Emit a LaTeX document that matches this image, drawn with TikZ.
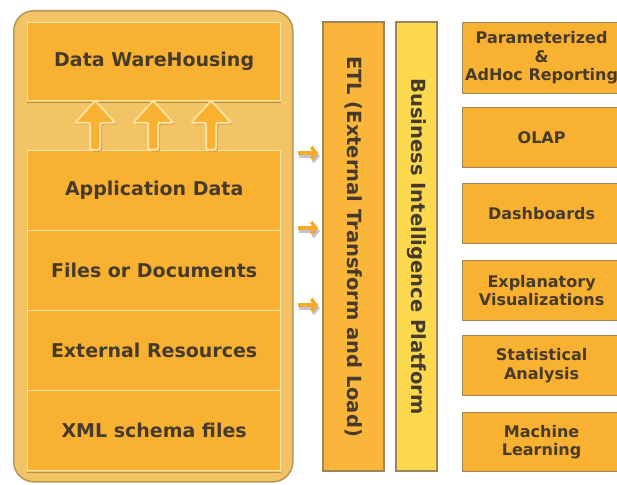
\documentclass[tikz,border=0pt]{standalone}
\usepackage{fontspec}
\setmainfont{DejaVu Sans}
\usetikzlibrary{arrows.meta,calc}
\definecolor{panelfill}{HTML}{F3C466}
\definecolor{paneldraw}{HTML}{B89A58}
\definecolor{boxfill}{HTML}{F9B132}
\definecolor{boxline}{HTML}{FCE4A4}
\definecolor{etlfill}{HTML}{F9B63A}
\definecolor{bifill}{HTML}{FDD950}
\definecolor{coldraw}{HTML}{9A8659}
\definecolor{txt}{HTML}{463B2A}
\definecolor{shadowline}{HTML}{B99145}
\definecolor{arrowshadow}{HTML}{8C93AE}
\definecolor{arroworange}{HTML}{F6AA2A}
\begin{document}
\begin{tikzpicture}[x=1pt,y=-1pt,
  panel/.style={draw=paneldraw, line width=1.6pt, fill=panelfill, rounded corners=20pt,
    minimum width=279pt, minimum height=471pt, anchor=north west, inner sep=0pt},
  srcbox/.style={draw=boxline, line width=1.3pt, fill=boxfill, minimum width=253pt,
    minimum height=80pt, anchor=north west, inner sep=0pt,
    font=\fontsize{19}{22}\selectfont\bfseries, text=txt},
  column/.style={draw=coldraw, line width=1.2pt, rotate=-90, minimum width=449pt,
    inner sep=0pt, font=\fontsize{19.5}{22}\selectfont\bfseries, text=txt},
  outbox/.style={draw=coldraw, line width=1.2pt, fill=boxfill, minimum width=158pt,
    anchor=north west, inner sep=0pt, align=center,
    font=\fontsize{16}{18.5}\selectfont\bfseries, text=txt},
  flowarrow/.style={line width=3.4pt, color=arroworange,
    -{Straight Barb[length=5pt,width=12pt]}},
  flowshadow/.style={line width=3.4pt, color=arrowshadow, opacity=0.55,
    -{Straight Barb[length=5pt,width=12pt]}},
  uparrow/.pic={
    \fill[shadowline, opacity=0.55, rounded corners=2pt, shift={(2,2)}]
      (-5,24) -- (-5,-3) -- (-20,-3) -- (0,-25) -- (20,-3) -- (5,-3) -- (5,24) -- cycle;
    \draw[draw=boxline, line width=1.8pt, fill=boxfill, rounded corners=2pt]
      (-5,24) -- (-5,-3) -- (-20,-3) -- (0,-25) -- (20,-3) -- (5,-3) -- (5,24) -- cycle;
  }
]
\useasboundingbox (0,0) rectangle (617,484);
\fill[white] (0,0) rectangle (617,484);

% left panel
\node[panel] (panel) at (13,10) {};
\node[srcbox, minimum height=78pt] (dw) at (27,22) {Data WareHousing};
\node[srcbox] (app) at (27,150) {Application Data};
\node[srcbox] (files) at (27,230) {Files or Documents};
\node[srcbox] (ext) at (27,310) {External Resources};
\node[srcbox] (xml) at (27,390) {XML schema files};
\draw[shadowline, line width=1.4pt] ([yshift=-1.4pt]dw.south west) -- ([yshift=-1.4pt]dw.south east);
\draw[shadowline, line width=1.4pt] ([yshift=-1.4pt]xml.south west) -- ([yshift=-1.4pt]xml.south east);

% up arrows between the source stack and the warehouse
\coordinate (mid) at ($(dw.south)!0.5!(app.north)$);
\pic at ([xshift=-59pt]mid) {uparrow};
\pic at ([xshift=-1pt]mid) {uparrow};
\pic at ([xshift=57pt]mid) {uparrow};

% columns
\node[column, fill=etlfill, minimum height=61pt] (etl) at (353.5,246.5) {ETL (External Transform and Load)};
\node[column, fill=bifill, minimum height=41pt] (bi) at (416.5,246.5) {Business Intelligence Platform};

% flow arrows into ETL
\foreach \yy/\nm in {153/f1,228/f2,305/f3}{
  \coordinate (\nm s) at ([xshift=4pt]panel.east |- 0,\yy);
  \coordinate (\nm e) at ([xshift=-4pt]etl.south |- 0,\yy);
  \draw[flowshadow] ([shift={(1.5,3)}]\nm s) -- ([shift={(1.5,3)}]\nm e);
  \draw[flowarrow] (\nm s) -- (\nm e);
}

% output boxes
\node[outbox, minimum height=71pt] (rep) at (462,22) {Parameterized\\\&\\AdHoc Reporting};
\node[outbox, minimum height=60pt] (olap) at (462,107) {OLAP};
\node[outbox, minimum height=60pt] (dash) at (462,183) {Dashboards};
\node[outbox, minimum height=60pt] (viz) at (462,260) {Explanatory\\Visualizations};
\node[outbox, minimum height=60pt] (stat) at (462,335) {Statistical\\Analysis};
\node[outbox, minimum height=59pt] (ml) at (462,412) {Machine\\Learning};
\end{tikzpicture}
\end{document}
